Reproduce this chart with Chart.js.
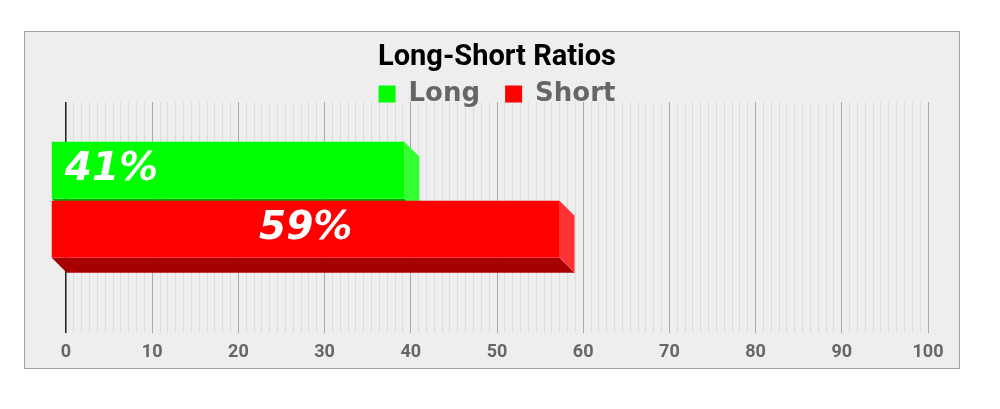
<!DOCTYPE html>
<html>
<head>
<meta charset="utf-8">
<script src="https://cdn.jsdelivr.net/npm/chart.js@4"></script>
<style>
  body { margin: 0; background: #fff; }
  #box {
    position: absolute; left: 24px; top: 31px;
    width: 934px; height: 336px;
    border: 1px solid #a0a0a0; background: #eeeeee;
  }
  #box canvas { display: block; }
</style>
</head>
<body>
<div id="box"><canvas id="ratioChart" width="934" height="336"></canvas></div>
<script>
// data
const categories = ['Ratio'];
const seriesNames = ['Long', 'Short'];
const longValues = [41];
const shortValues = [59];
const tickLabels = [0, 10, 20, 30, 40, 50, 60, 70, 80, 90, 100];

const frontColors = ['#00ff00', '#ff0000'];
const sideColors = ['#33ff33', '#ff3333'];
const bottomColors = ['#00a800', '#a80000'];
const DX = 15, DY = 15, LIFT = 3;

// draws the bars as little boxes, front face shifted up-left
const bars3d = {
  id: 'bars3d',
  afterLayout(chart) {
    // let the legend text hang over the top of the plot (no clipping)
    chart.legend.bottom += 14;
  },
  beforeDatasetsDraw(chart) {
    const ctx = chart.ctx;
    chart.data.datasets.forEach((ds, i) => {
      const meta = chart.getDatasetMeta(i);
      meta.data.forEach(bar => {
        const x0 = bar.base, x1 = bar.x;
        const yt = bar.y - bar.height / 2 - LIFT, yb = bar.y + bar.height / 2 - LIFT;
        // bottom face
        ctx.fillStyle = bottomColors[i];
        ctx.beginPath();
        ctx.moveTo(x0 - DX, yb - DY);
        ctx.lineTo(x1 - DX, yb - DY);
        ctx.lineTo(x1, yb);
        ctx.lineTo(x0, yb);
        ctx.closePath();
        ctx.fill();
        // side face
        ctx.fillStyle = sideColors[i];
        ctx.beginPath();
        ctx.moveTo(x1 - DX, yt - DY);
        ctx.lineTo(x1, yt);
        ctx.lineTo(x1, yb);
        ctx.lineTo(x1 - DX, yb - DY);
        ctx.closePath();
        ctx.fill();
        // front face
        ctx.fillStyle = frontColors[i];
        ctx.fillRect(x0 - DX, yt - DY, x1 - x0, yb - yt);
        // label
        const v = ds.data[0];
        ctx.save();
        ctx.fillStyle = '#ffffff';
        ctx.font = 'italic bold 39px "DejaVu Sans"';
        ctx.textBaseline = 'middle';
        const cy = (yt + yb) / 2 - DY;
        if (i === 0) {
          ctx.textAlign = 'left';
          ctx.fillText(v + '%', x0 - DX + 13, cy);
        } else {
          ctx.textAlign = 'center';
          ctx.fillText(v + '%', (x0 + x1) / 2 - DX, cy);
        }
        ctx.restore();
      });
    });
    return false;
  }
};

new Chart(document.getElementById('ratioChart'), {
  type: 'bar',
  data: {
    labels: categories,
    datasets: [
      { label: seriesNames[0], data: longValues, backgroundColor: frontColors[0], xAxisID: 'x' },
      { label: seriesNames[1], data: shortValues, backgroundColor: frontColors[1], xAxisID: 'x' }
    ]
  },
  options: {
    indexAxis: 'y',
    responsive: false,
    animation: false,
    categoryPercentage: 0.51,
    barPercentage: 0.965,
    layout: { padding: { left: 41, right: 31, top: 0, bottom: -3 } },
    plugins: {
      tooltip: { enabled: false },
      title: {
        display: true,
        text: 'Long-Short Ratios',
        color: '#000',
        font: { family: 'Roboto', size: 29, weight: 'bold' },
        padding: { top: 8.6, bottom: -19.4 }
      },
      legend: {
        position: 'top',
        maxHeight: 46,
        labels: {
          color: '#666',
          font: { family: 'DejaVu Sans', size: 26, weight: 'bold' },
          boxWidth: 17,
          boxHeight: 17,
          padding: 25
        }
      }
    },
    scales: {
      y: { display: false },
      x: {
        type: 'linear', min: 0, max: 100, position: 'bottom',
        afterBuildTicks: axis => { axis.ticks = tickLabels.map(v => ({ value: v })); },
        ticks: {
          color: '#666', padding: 8,
          font: { family: 'Roboto', size: 18, weight: 'bold' }
        },
        grid: {
          drawTicks: false,
          color: c => c.tick && c.tick.value === 0 ? '#222' : '#aaaaaa',
          lineWidth: c => c.tick && c.tick.value === 0 ? 1.5 : 1
        },
        border: { display: false }
      },
      x2: {
        type: 'linear', min: 0, max: 110, position: 'bottom',
        ticks: { display: false, stepSize: 1 },
        grid: { color: '#dcdcdc', drawTicks: false, z: -2 },
        border: { display: false }
      }
    }
  },
  plugins: [bars3d]
});
</script>
</body>
</html>
